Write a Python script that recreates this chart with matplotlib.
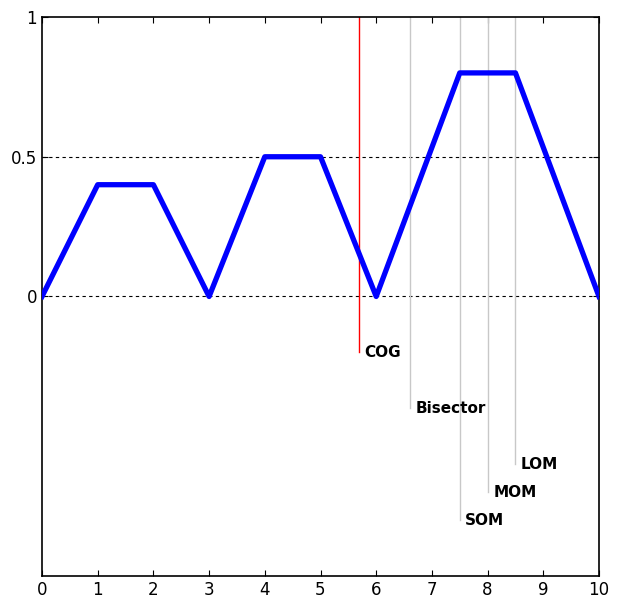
import matplotlib.pyplot as plt

# Aggregated membership function (piecewise linear)
x_pts = [0, 1, 2, 3, 4, 5, 6, 7.5, 8.5, 10]
mu_pts = [0, 0.4, 0.4, 0, 0.5, 0.5, 0, 0.8, 0.8, 0]

# Defuzzification results
methods = ['COG', 'Bisector', 'SOM', 'MOM', 'LOM']
method_x = [5.69, 6.6, 7.5, 8.0, 8.5]
label_y = [-0.2, -0.4, -0.8, -0.7, -0.6]
line_colors = ['red', '#c8c8c8', '#c8c8c8', '#c8c8c8', '#c8c8c8']

x_ticks = list(range(11))
y_ticks = [0, 0.5, 1]

fam = ['Liberation Sans Narrow', 'DejaVu Sans']
plt.rcParams['font.family'] = fam

fig = plt.figure(figsize=(6.25, 6.03), dpi=100)
ax = fig.add_axes([0.0672, 0.0448, 0.8912, 0.927])

ax.axhline(0, color='black', linestyle=(0, (3, 3)), linewidth=0.8, zorder=1)
ax.axhline(0.5, color='black', linestyle=(0, (3, 3)), linewidth=0.8, zorder=1)

for name, xv, yv, c in zip(methods, method_x, label_y, line_colors):
    ax.plot([xv, xv], [1, yv], color=c, linewidth=1.0, zorder=2)
    ax.text(xv + 0.1, yv, name, fontsize=11, fontweight='bold',
            va='center', ha='left', family=fam)

ax.plot(x_pts, mu_pts, color='blue', linewidth=3.8, zorder=3)

ax.set_xlim(0, 10)
ax.set_ylim(-1, 1)
ax.set_xticks(x_ticks)
ax.set_yticks(y_ticks)
ax.set_yticklabels(['0', '0.5', '1'])
ax.tick_params(direction='in', top=True, right=True, labelsize=12, length=4)
for s in ax.spines.values():
    s.set_linewidth(1.2)

plt.savefig('out.png', dpi=100)
